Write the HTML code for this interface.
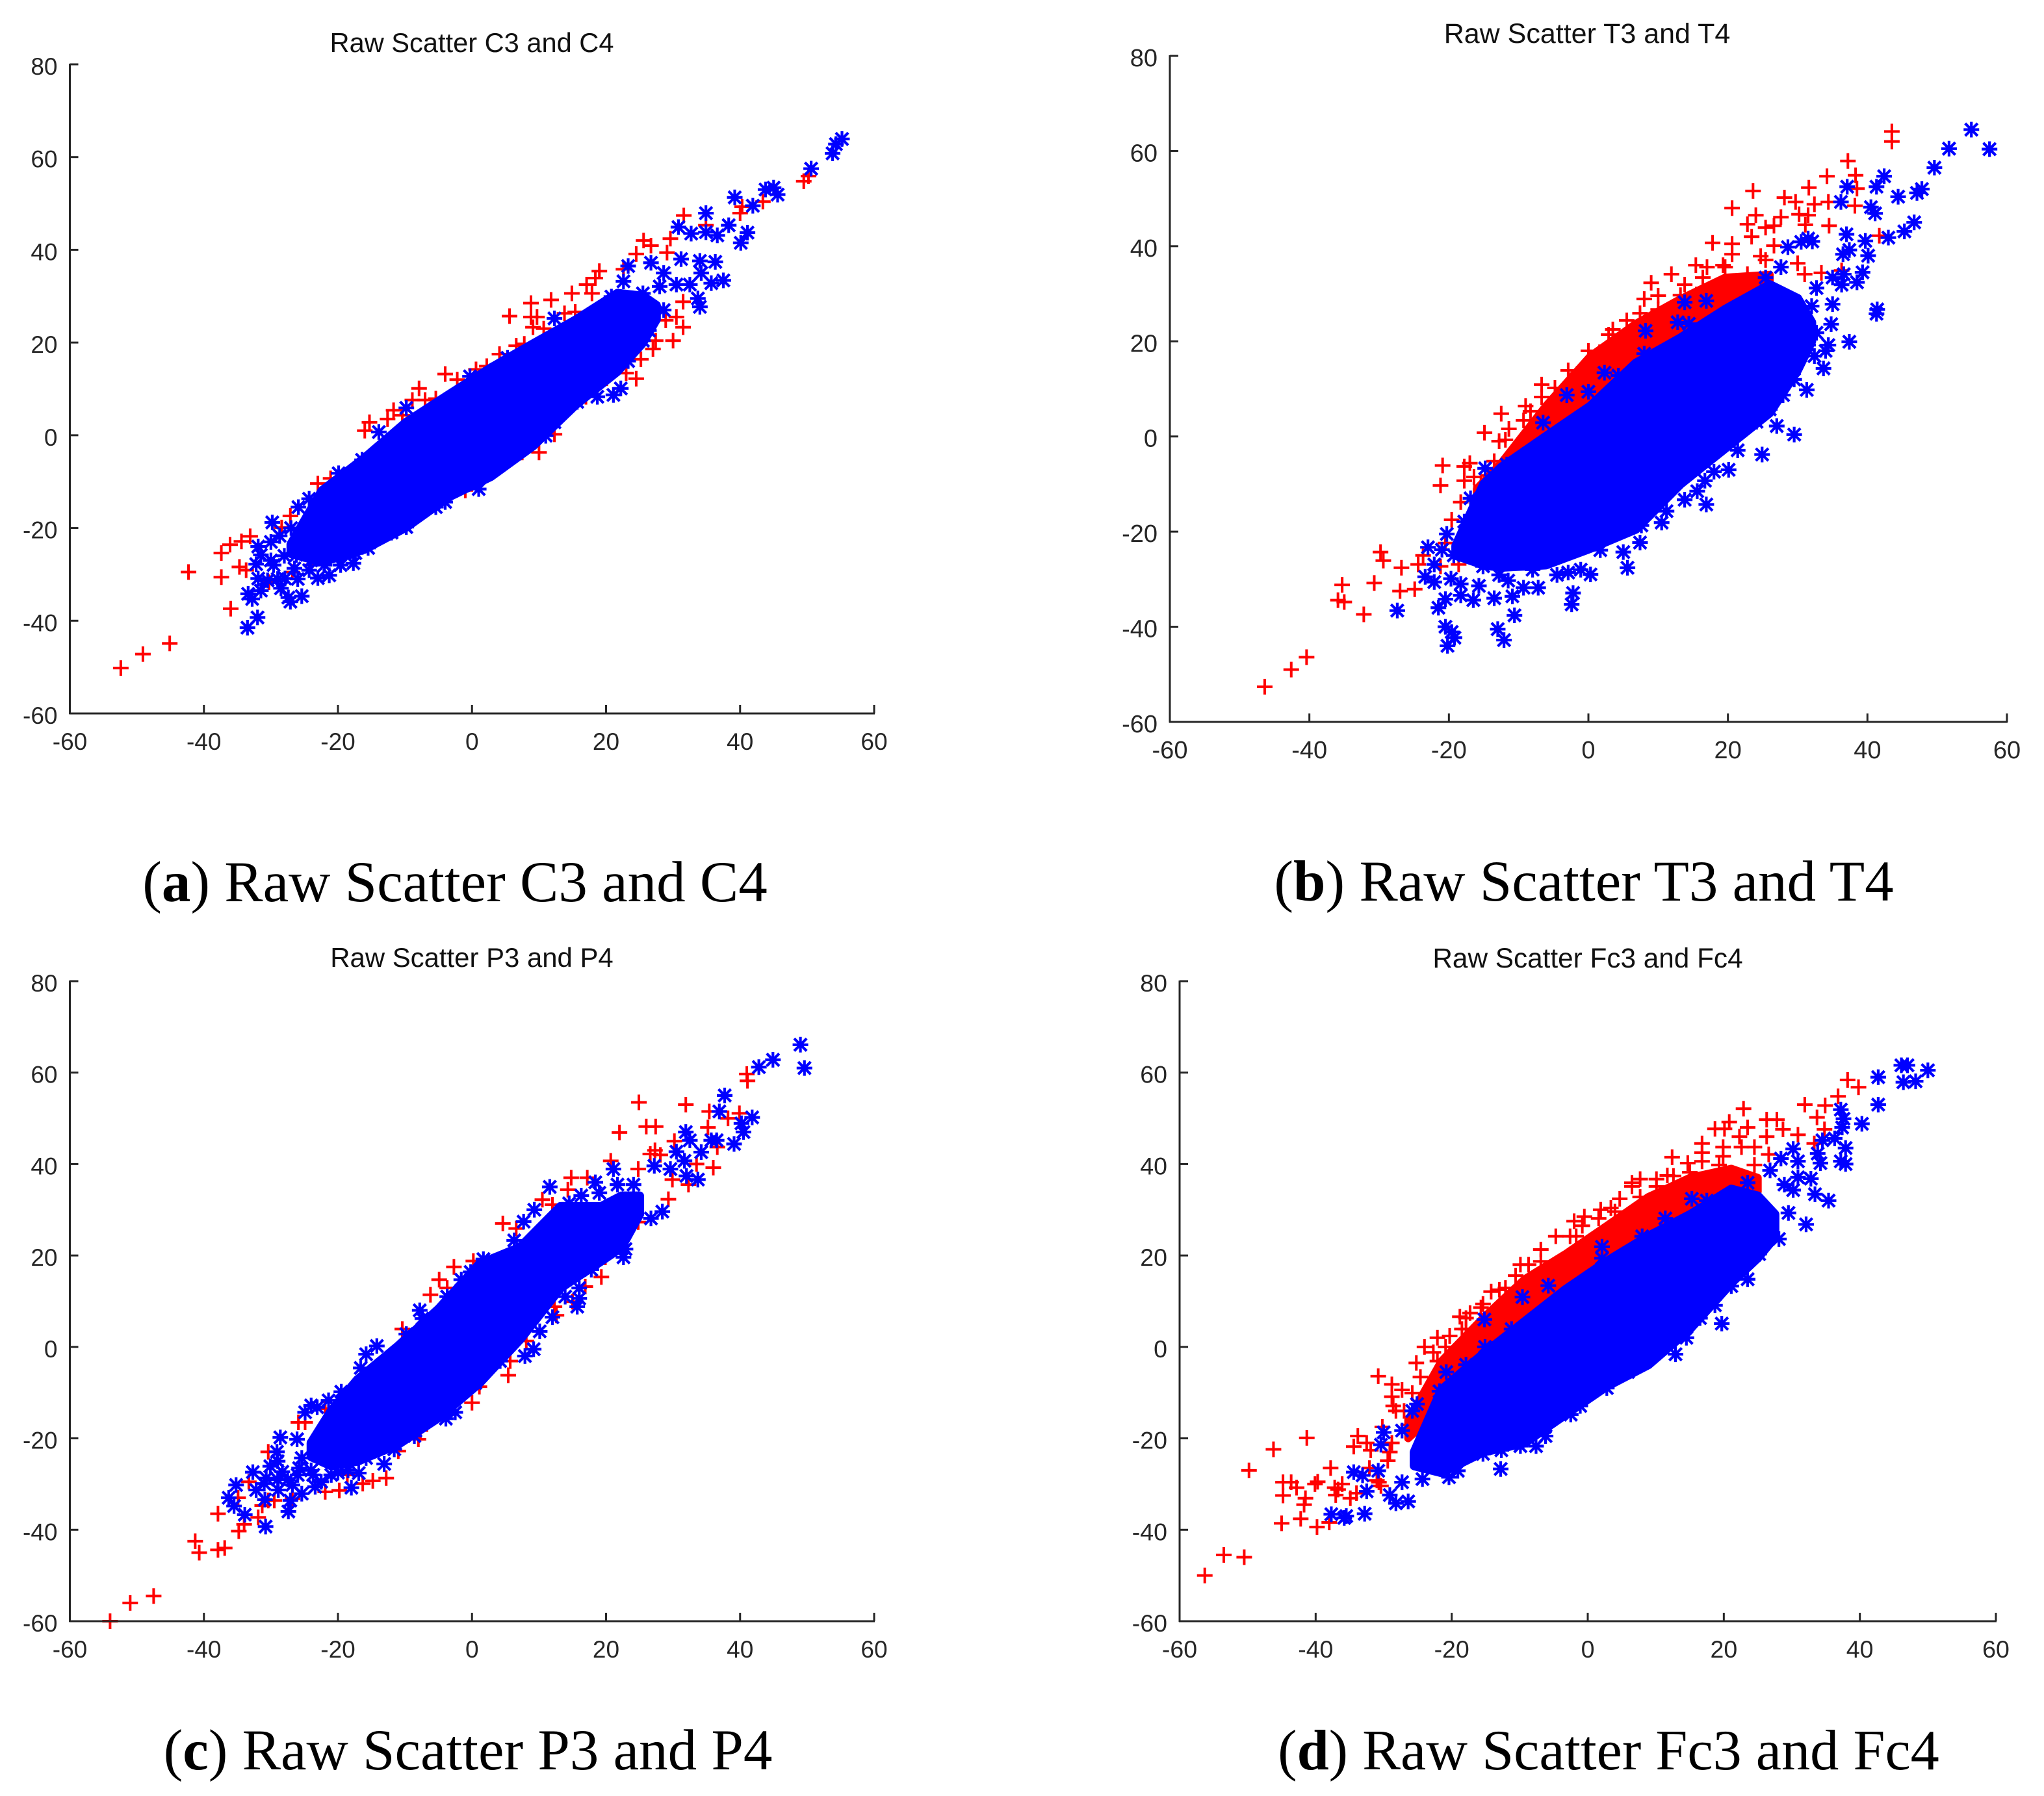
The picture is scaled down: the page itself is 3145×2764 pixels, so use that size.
<!DOCTYPE html>
<html lang="en">
<head>
<meta charset="utf-8">
<title>Raw Scatter figure</title>
<style>
html,body{margin:0;padding:0;background:#fff;}
svg{display:block;}
.tick-label{font-family:"Liberation Sans",sans-serif;fill:#262626;}
.panel-title{font-family:"Liberation Sans",sans-serif;fill:#111;text-anchor:middle;}
.caption{font-family:"Liberation Serif",serif;font-size:89px;fill:#000;text-anchor:middle;}
.caption tspan{font-weight:bold;}
</style>
</head>
<body>
<svg id="figure" xmlns="http://www.w3.org/2000/svg" width="3145" height="2764" viewBox="0 0 3145 2764">
<rect x="0" y="0" width="3145" height="2764" fill="#fff"/>
<g id="panel-a"></g>
<g id="panel-b"></g>
<g id="panel-c"></g>
<g id="panel-d"></g>
<text class="panel-title" x="726" y="80" font-size="41.6">Raw Scatter C3 and C4</text>
<text class="panel-title" x="2442" y="66" font-size="43">Raw Scatter T3 and T4</text>
<text class="panel-title" x="726" y="1488" font-size="41.9">Raw Scatter P3 and P4</text>
<text class="panel-title" x="2443" y="1489" font-size="42.3">Raw Scatter Fc3 and Fc4</text>
<text class="caption" x="700" y="1387">(<tspan>a</tspan>) Raw Scatter C3 and C4</text>
<text class="caption" x="2437" y="1386">(<tspan>b</tspan>) Raw Scatter T3 and T4</text>
<text class="caption" x="720" y="2723">(<tspan>c</tspan>) Raw Scatter P3 and P4</text>
<text class="caption" x="2475" y="2723" style="font-size:88.3px">(<tspan>d</tspan>) Raw Scatter Fc3 and Fc4</text>
</svg>
<script>
const xTickLabels = [-60,-40,-20,0,20,40,60];
const yTickLabels = [-60,-40,-20,0,20,40,60,80];

/* ---------- Panel A: C3 / C4 ---------- */
const panelARedPoints = [[-52.4,-50.2],[-49.1,-47.2],[-45.1,-44.9],[-42.3,-29.5],[-37.4,-25.4],[-36.1,-23.6],[-34.4,-22.9],[-33.1,-21.8],[-37.4,-30.6],[-34.7,-28.4],[-33.7,-29.1],[-36,-37.4],[-30.3,-31.7],[-28.4,-19.9],[-27.1,-17.4],[-23,-10.4],[-21.1,-9.3],[-15.3,2.8],[-16,1],[-12.6,3.5],[-11.7,5.4],[-10.4,4.3],[-8.9,7.6],[-7.9,10.1],[-7,7.6],[-7,5],[-5.4,7.9],[-4,13.2],[-2.2,12],[0.6,14.2],[2.2,14.9],[4.1,17.5],[5.6,25.7],[6.6,19.3],[7.8,19.7],[8.8,28.5],[8.8,25.5],[9.7,25.5],[9.1,23.3],[11.8,29.2],[10.7,23],[13.8,26.3],[15.4,26.6],[14.9,30.6],[17.1,32.5],[17.9,30.6],[18.4,33.9],[19,35.4],[22.6,35.8],[24.5,39.1],[25.6,42],[26.7,40.9],[29.6,42.4],[29.1,39.4],[31.6,47.4],[34.9,45.3],[40,47.9],[40.3,49.3],[43.4,50.4],[49.5,54.8],[50.2,55.9],[31.5,28.8],[31.5,23.3],[30.5,25.5],[30,20.4],[27.4,20.4],[27,18.6],[25.2,16.4],[24.5,12.2],[23,13.4],[20.1,12.3],[17,8.3],[12.3,0.2],[10,-3.7],[7.5,-3.7],[3.7,-7.1],[-1,-11.9],[-24,-28],[-26.8,-29.5],[28.9,24.8],[23,29.2],[24.9,27.7]];
const panelABluePoints = [[-33.5,-41.5],[-32,-39.3],[-27.4,-35],[-27.1,-35.9],[-25.4,-34.7],[-33.4,-34.2],[-32.8,-35.3],[-31.5,-33.5],[-31.9,-30.9],[-30.5,-31.3],[-27.9,-30.9],[-23,-30.8],[-21.3,-30.2],[-32.2,-27.8],[-31.5,-25.8],[-31.9,-24],[-29.8,-18.8],[-29.6,-28],[-26.2,-25.8],[-24.3,-29.1],[-26.5,-28.7],[-19.6,-28],[-17.7,-27.6],[-17.4,-25.4],[-15.5,-24.3],[-14.8,-22.5],[-12,-21],[-9.8,-19.8],[-8.2,-16.3],[-5.4,-15.5],[-4,-14.4],[-2.9,-11.9],[1,-11.6],[2.2,-8.2],[5.6,-4.2],[8.5,-0.5],[11,-0.1],[12.3,2.8],[15.7,7.2],[18.7,8.3],[21.1,8.7],[22.2,10.1],[23.3,16],[25.5,20.4],[26.4,22.6],[24.2,24],[28.6,27],[33.7,29.5],[34,27.7],[35.7,32.8],[37.5,33.4],[32.5,32.5],[30.5,32.5],[28,32.1],[25.5,30.6],[22.6,33.2],[23.3,36.5],[26.7,37.2],[28.6,35],[31.2,38],[34,37.6],[36.3,37.4],[34.2,35],[30.8,44.9],[32.7,43.5],[34.9,47.9],[34.9,43.8],[36.6,43.1],[38.3,45.3],[41.1,43.7],[40.1,41.5],[39.2,51.3],[41.9,49.5],[43.8,53],[45,53.4],[45.6,51.9],[50.6,57.5],[53.8,60.8],[54.3,62.8],[55.2,63.9],[-19.9,-8.2],[-16.4,-5.3],[-13.9,0.7],[-9.8,5.9],[-24.3,-13.7],[-25.9,-15.5],[-28.7,-21.7],[-0.3,12.7],[5.3,16.7],[12.3,25.2],[20.8,29.9],[-30,-27],[-28,-26],[-29,-31],[-26,-31],[-24,-27],[-22,-28],[-20,-26],[-28.5,-33],[-30,-23],[-27,-20]];
const panelABlueBandX = [-27,-22.4,-16.1,-9.8,-3.5,2.8,9.1,15.4,21.7,25.5,27.5];
const panelABlueBandHigh = [-23.5,-12,-5,2.8,8.7,14.5,19.7,24.8,30.6,30,28];
const panelABlueBandLow = [-25.5,-27.3,-24.6,-19.8,-13.3,-8.9,-2.3,6.5,13.8,20,25];
const panelARedBandX = [];
const panelARedBandHigh = [];
const panelARedBandLow = [];

/* ---------- Panel B: T3 / T4 ---------- */
const panelBRedPoints = [[-46.4,-52.6],[-42.6,-49],[-40.4,-46.4],[-32.2,-37.4],[-35.9,-34.4],[-35,-34.8],[-35.3,-31.2],[-30.7,-30.8],[-27,-32.5],[-24.9,-32.1],[-26.8,-27.6],[-29.8,-24.3],[-29.4,-26.1],[-24.4,-26.9],[-23.7,-25],[-18.6,-26.9],[-21.2,-27.3],[-20.5,-22.4],[-19.6,-17.5],[-18.3,-13.8],[-21.2,-10.3],[-20.9,-6.1],[-17.8,-6.3],[-17.8,-9.3],[-17,-5.6],[-16.4,-8.5],[-15.4,-10.4],[-14.4,-8.2],[-13.5,-5.2],[-12.8,-1],[-14.9,0.8],[-11.9,-0.7],[-11.4,1.6],[-12.5,4.8],[-9.3,3.4],[-9,6.4],[-8.3,5.3],[-6.7,10.9],[-6.7,8.3],[-4.8,10.2],[-2.9,13.9],[-1.6,13.2],[0,18],[1.6,17.7],[2.9,21.4],[3.5,22.5],[5.5,24.4],[7.4,25.9],[8,28.9],[9,32.3],[10,29.6],[11.9,34.1],[13.8,31.9],[15.4,36],[16.4,33.4],[17.8,40.7],[17,35.6],[19.3,36],[20.6,40.5],[20.6,38.3],[20.6,48],[22.8,44.6],[23.6,51.6],[24,46.5],[23.4,42],[25.4,43.9],[26.6,44.3],[27.6,46.1],[28.1,50.2],[29.7,49.3],[31.6,52.3],[34.2,54.7],[37.2,57.9],[38.3,54.9],[38.5,52.1],[32.4,48.8],[34.4,49.3],[30.2,46.7],[31.5,46.5],[31.1,44.5],[34.5,44.3],[38.2,48.5],[41.7,42.2],[43.5,62],[43.5,64.1],[24.7,37.9],[26.6,40.1],[30,36.4],[31,34.1],[33.4,34.4],[36.3,34.9],[22.8,33],[20.2,31.9],[-9.3,-1.8],[-6.7,2.7],[-2.9,8.7],[-0.3,13.2],[3.5,18.4],[6.8,22.2],[10,26.7],[13.2,29.7],[16.4,31.2],[19.6,35.6],[22.8,34.1],[25.4,37.1],[-13.8,-9.3],[-15.7,-13]];
const panelBBluePoints = [[-20.2,-44],[-19.2,-42.3],[-19.6,-41.1],[-20.5,-40],[-13,-40.5],[-12.1,-42.8],[-10.6,-37.6],[-2.2,-32.9],[-2.4,-35.3],[-27.4,-36.6],[-21.5,-36],[-20.5,-34.2],[-18.3,-33.4],[-16.5,-34.4],[-13.5,-34],[-10.9,-33.6],[-7.2,-31.8],[-9.3,-31.8],[-15.7,-31.4],[-18.3,-31],[-22.1,-30.6],[-23.4,-29.5],[-19.7,-29.9],[-11.5,-30.3],[-12.8,-29.1],[-8,-28],[-4.5,-29.1],[-2.9,-28.6],[-1.1,-28],[0.3,-29],[5.6,-27.6],[5,-24.3],[1.7,-23.9],[7.4,-22.3],[7.6,-18.7],[10.5,-18.1],[11.2,-15.7],[13.8,-13.3],[16.9,-14.3],[15.6,-11.5],[16.7,-9.3],[20.1,-7],[18,-7.4],[24.9,-3.8],[21.4,-2.9],[19.3,-1.4],[29.5,0.4],[27,2.2],[24.1,3.1],[26,5.7],[31.3,9.8],[27.9,8.7],[29.5,12],[33.7,14.3],[37.4,19.9],[32.4,16.9],[34,18],[34.4,19.2],[31.5,19.2],[32.7,21.8],[34.8,23.6],[41.4,26.7],[41.3,25.8],[35,27.8],[32,27.4],[38.5,32.4],[39.3,34.5],[36.3,31.9],[32.7,31.2],[35,33.4],[36.6,34.1],[40.1,38],[37.4,39.2],[36.5,38.3],[39.7,41.1],[37,42.5],[43,41.8],[45.3,43.1],[46.7,45],[32.1,41],[30.5,40.9],[28.6,39.8],[31.5,41.6],[36.2,49.3],[41.1,46.9],[40.5,48.2],[44.4,50.4],[47.1,51.2],[47.8,52],[37.1,52.5],[41.3,52.5],[42.4,54.7],[49.6,56.5],[51.7,60.5],[54.9,64.5],[57.5,60.4],[13.8,28.2],[16.9,28.5],[12.8,24],[14.4,23.7],[8.2,22.2],[8,17.4],[2.3,13.4],[4.3,12.8],[0,9.4],[-3.1,8.7],[-6.5,2.9],[-8.7,-3.7],[-11.7,-5.9],[-14.8,-6.7],[-16.9,-13],[-17.8,-17.9],[-20.3,-20.5],[-23,-23.3],[-21,-23.8],[-19.3,-25],[-17.3,-24.3],[-22.1,-26.9],[-15.1,-27.3],[27.6,35.6],[25.4,33.4]];
const panelBBlueBandX = [-19,-15,-12.5,-6.1,0.3,6.8,13.2,19.6,26,30,32];
const panelBBlueBandHigh = [-23,-10,-6.5,0,6.4,15.4,20.7,26.7,31.9,29,24];
const panelBBlueBandLow = [-25,-27,-27.5,-27,-23.5,-19.5,-10,-2.5,5,14,20];
const panelBRedBandX = [-16,-12.5,-6.1,0.3,6.8,13.2,19.6,26];
const panelBRedBandHigh = [-11,-5.6,6.4,16.9,23.7,28.9,33.4,34];
const panelBRedBandLow = [-16,-13.8,-6.3,4.2,11.7,17.7,23.7,26.7];

/* ---------- Panel C: P3 / P4 ---------- */
const panelCRedPoints = [[-54,-60],[-51,-56],[-47.5,-54.5],[-37.9,-36.5],[-37.9,-44.4],[-36.9,-44],[-41.3,-42.5],[-40.7,-45],[-34.8,-40.3],[-34,-38.8],[-31.9,-37.3],[-33.3,-29.5],[-34.9,-33],[-30.4,-33.6],[-31.3,-34.7],[-29.5,-33.6],[-30.4,-22.95],[-26.8,-33.2],[-21.9,-31.7],[-19.8,-31.4],[-16.3,-29.9],[-14.8,-29.3],[-12.8,-28.7],[-18.6,-28],[-11,-22.8],[-8,-20.2],[-7.7,-18.3],[0,-12.2],[1.1,-8.7],[5.4,-6.2],[5.7,-3.1],[8.1,1.3],[12.3,8.8],[12.6,6.9],[15,9.9],[19.3,15.3],[19.9,19.6],[16.9,13.2],[-25.9,-16.5],[-24.9,-16.5],[-21.9,-13.5],[-10.4,3.9],[-6.2,11.4],[-4.9,14.7],[-3.7,12.9],[-2.7,17.5],[0.2,18.8],[4.6,27],[6.6,25.9],[10.5,32.2],[12,31.1],[14.3,34.4],[14.8,37],[17.2,37],[20.7,40.7],[22,46.9],[24.9,53.5],[26,48.2],[27.4,48.2],[30.2,45],[26.6,42.2],[28.1,42],[27.3,43],[31.9,53],[35.4,51.5],[35.2,48],[38.2,50],[39.9,51.1],[36.6,43.7],[33.5,40],[36,39.2],[32.3,35.5],[29.9,36.6],[29.3,32.3],[24.8,27.3],[41.1,58.2],[41,59.7],[24.8,38.9]];
const panelCBluePoints = [[-30.8,-39.3],[-33.9,-36.7],[-27.4,-36],[-35.5,-34.8],[-36.3,-33],[-30.9,-33.4],[-27.1,-33.6],[-25.4,-32.1],[-32.2,-31.3],[-28.9,-31.3],[-26.8,-30.2],[-23.4,-30.6],[-18,-30.8],[-31,-29.9],[-35.2,-30.2],[-32.7,-27.4],[-30.1,-26.1],[-28.3,-27.3],[-30.7,-28.7],[-23.7,-28],[-21,-28],[-16.9,-27.6],[-25.8,-26.5],[-25.4,-24.3],[-29.1,-22.95],[-28.6,-19.8],[-26.1,-20.2],[-13.1,-25.6],[-11.6,-22.4],[-15.8,-24.3],[-8.6,-19.5],[-3.9,-15.7],[-2.5,-14.3],[-24.9,-14.3],[-24,-12.8],[-23.1,-13.2],[-21.4,-11.7],[-19.5,-9.8],[-16.6,-4.6],[-15.8,-1.6],[-14.2,0.2],[-9.8,2.8],[-7.8,8],[-7.4,6.2],[-3.7,11],[-1.6,14.7],[-0.2,16.4],[1.7,19.2],[6.3,23.3],[7.7,27.4],[9.3,30],[11.6,35],[16.3,33.1],[18.4,36],[19,33.7],[14.5,31.4],[21.1,38.9],[21.7,35.5],[24.1,35.5],[27.2,39.6],[29.6,38.9],[31.7,40.7],[32,37.4],[33.7,36.6],[28.4,29.6],[26.7,28.1],[23.5,27.4],[22.9,21.4],[22.3,23.3],[22.6,19.6],[17.8,16.9],[16,12.9],[16,10.6],[15.7,8.8],[13.9,11],[12,6.5],[10.1,3.4],[9.2,-0.5],[7.9,-2],[4.2,-3.1],[0.5,-7.9],[30.5,42.7],[31.9,47],[32.5,45.2],[34.2,42.6],[35.7,45.2],[36.5,45.2],[39.1,44.4],[40.5,47],[40.2,48.9],[41.8,50.2],[36.9,51.5],[37.7,55],[42.8,61.2],[44.9,62.8],[49,66.1],[49.6,61],[-29,-29],[-27.5,-29],[-26,-28],[-24,-27],[-29,-25],[-22.5,-29.5],[-20,-27.5],[-18.5,-27]];
const panelCBlueBandX = [-24,-21,-17.1,-11,-4.9,1.1,7.2,13.2,19.3,22.3,25];
const panelCBlueBandHigh = [-21,-14,-7.2,0.2,8.4,18.1,21.8,30.7,30.7,33,33];
const panelCBlueBandLow = [-24,-26,-25,-21.3,-15.4,-7.9,1.7,12.9,18.8,21.8,29];
const panelCRedBandX = [];
const panelCRedBandHigh = [];
const panelCRedBandLow = [];

/* ---------- Panel D: Fc3 / Fc4 ---------- */
const panelDRedPoints = [[-56.3,-50],[-53.5,-45.5],[-50.5,-46],[-49.8,-27],[-46.2,-22.4],[-41.3,-19.9],[-45,-38.6],[-42.2,-37.6],[-39.8,-39.4],[-38,-38.4],[-44.8,-29.6],[-44.8,-32.5],[-43.6,-29.6],[-42.8,-30.8],[-41.7,-34.5],[-41.5,-33.1],[-40.1,-30],[-39.7,-29.5],[-37.2,-30.8],[-36.7,-31.2],[-36.1,-30],[-37.05,-32.4],[-34.9,-33.1],[-34,-32],[-37.8,-26.5],[-34.4,-21.8],[-33.8,-19.5],[-32.5,-21],[-31.9,-22.6],[-32.1,-26.5],[-31,-29.2],[-30.4,-30.4],[-29.1,-23],[-30.2,-17.5],[-30.8,-6.4],[-28.8,-8.2],[-27.3,-9.4],[-28.8,-10.9],[-28.6,-12.9],[-28.2,-14],[-25.8,-10.1],[-25.2,-3.5],[-24.6,-6.6],[-24,0],[-22.7,-1.2],[-22.1,2],[-20.3,2.4],[-18.8,6.6],[-17.9,3.9],[-17.3,7.4],[-15.7,8.6],[-14.2,12.1],[-12.1,12.9],[-9.9,18],[-8.7,18],[-6.9,21.3],[-4.7,24.2],[-1.7,24.2],[-2,27.5],[-0.5,28.5],[1.9,30],[3.4,30.4],[4.7,32.4],[6.5,35.1],[7.7,36.7],[10.1,36.7],[12.4,41.5],[11.7,37.5],[14.7,40.2],[16.8,44.5],[16.8,42.5],[18.7,47.7],[20.1,47.7],[20.8,49.2],[19.9,43.7],[19.9,41.7],[22.9,52.1],[23.5,48],[22.3,46],[22.6,43.7],[24.5,43.7],[24.5,39.8],[26.3,49.7],[27.8,49.7],[26.3,46],[28.7,47.6],[30.9,46.4],[33.3,44.5],[31.9,53],[34.9,52.8],[33.7,50.2],[34.8,47.6],[36.8,54.8],[38.2,58.4],[39.8,56.8],[26.6,42.1],[6.5,35.9],[7.7,32.8],[10.1,35.1],[12.6,37.4],[15,38.2],[16.8,40.6],[19.3,39.8],[21.1,37.5],[4,29.6],[1.6,28.1],[-0.8,26.5],[-2.6,24.2],[-6.9,18.7],[-10.6,15.6],[-13,12.5],[-15.4,9.4],[-17.9,6.3],[-18.5,3.9],[-20.9,0],[-22.1,-3.1],[-27,-14],[-26.4,-17.1],[-28.8,-21],[-29.4,-24.9],[-30.7,-29.6]];
const panelDBluePoints = [[-37.7,-36.6],[-35.8,-37.4],[-35.5,-37],[-32.8,-36.5],[-26.4,-33.8],[-28.2,-34.2],[-29.1,-32.4],[-32.5,-31.6],[-33.1,-28.1],[-34.4,-27.4],[-30.8,-27.1],[-30,-18.7],[-30.4,-21.4],[-27.3,-18.3],[-25.8,-14],[-25.1,-12.5],[-20.8,-5.5],[-21.8,-9.7],[-24.3,-28.9],[-27.3,-29.6],[-20.4,-28.5],[-19.1,-27.1],[-12.8,-26.7],[-15.4,-23.4],[-12.7,-22.6],[-9.9,-21.7],[-7.6,-21.7],[-6.2,-19.5],[-6.3,-17.5],[-2.5,-14.8],[-1.1,-12.9],[2.8,-9],[3.5,-7],[5.9,-5.5],[7.4,-2.2],[12.9,-1.6],[9.2,0],[11.5,1.6],[14.5,2],[19.7,5.1],[16.5,6.3],[18.7,9.1],[16.8,9.8],[21.1,13.3],[23.5,14.8],[25.2,20.3],[28.1,23.6],[32.1,26.8],[29.5,29.3],[35.4,32],[33.4,33.4],[32.8,36.8],[30.9,37.1],[28.9,35.5],[30.2,34.3],[37.9,40],[37.2,40.6],[34.2,40.2],[33.8,42.3],[37.9,43.5],[30.9,40.6],[28.4,41.2],[30.2,43.3],[26.8,38.6],[23.5,35.9],[34.5,45.2],[36.3,45.6],[37.4,48],[37.6,49.9],[37.2,51.9],[40.3,48.8],[42.7,53],[42.7,59],[46.1,61.6],[47,61.6],[46.4,57.9],[48.2,58.1],[50,60.5],[2.1,21.9],[2.1,19.4],[-9.6,10.9],[-5.8,13.4],[-15.2,6],[11.4,28.1],[8,24.2],[-15.1,0],[-17.9,-3.9],[-11.2,3.9],[-6.9,6.2],[15.3,32.4],[17.5,32]];
const panelDBlueBandX = [-25.5,-21.5,-15.4,-9.3,-3.3,2.8,8.9,15,21.1,25,27.5];
const panelDBlueBandHigh = [-23,-9.4,-1.6,5.5,12.5,18.7,24.2,28.9,34.5,33,29];
const panelDBlueBandLow = [-26,-27.5,-23,-21,-14.8,-8.6,-3.9,3.9,14,19.5,24];
const panelDRedBandX = [-26.4,-21.5,-15.4,-9.3,-3.3,2.8,8.9,15,21.1,25];
const panelDRedBandHigh = [-16,-3.1,6.3,14.8,20.3,26.5,32.8,37,39,37];
const panelDRedBandLow = [-20,-13.2,-1.6,3.9,11.7,14.8,21,27.3,33.5,34];

const SVG_NS = 'http://www.w3.org/2000/svg';
const AXIS_COLOR = '#262626';
const RED = '#ff0000';
const BLUE = '#0000ff';

function makeXScale(left, right) {
  const lo = xTickLabels[0], hi = xTickLabels[xTickLabels.length - 1];
  return v => left + (v - lo) / (hi - lo) * (right - left);
}
function makeYScale(top, bottom) {
  const lo = yTickLabels[0], hi = yTickLabels[yTickLabels.length - 1];
  return v => bottom - (v - lo) / (hi - lo) * (bottom - top);
}
function plusPath(x, y, r) {
  return 'M' + (x - r) + ' ' + y + 'H' + (x + r) + 'M' + x + ' ' + (y - r) + 'V' + (y + r);
}
function starPath(x, y, r) {
  const d = r * 0.8;
  return plusPath(x, y, r) +
    'M' + (x - d) + ' ' + (y - d) + 'L' + (x + d) + ' ' + (y + d) +
    'M' + (x - d) + ' ' + (y + d) + 'L' + (x + d) + ' ' + (y - d);
}
function bandPath(xs, highs, lows, sx, sy) {
  let d = '';
  xs.forEach((v, i) => { d += (i ? 'L' : 'M') + sx(v) + ' ' + sy(highs[i]); });
  for (let i = xs.length - 1; i >= 0; i--) { d += 'L' + sx(xs[i]) + ' ' + sy(lows[i]); }
  return d + 'Z';
}

function drawPanel(cfg) {
  const root = document.getElementById(cfg.id);
  const sx = makeXScale(cfg.left, cfg.right);
  const sy = makeYScale(cfg.top, cfg.bottom);

  if (cfg.redBandX.length) {
    const band = document.createElementNS(SVG_NS, 'path');
    
    
    band.setAttribute('d', bandPath(cfg.redBandX, cfg.redBandHigh, cfg.redBandLow, sx, sy));
    band.setAttribute('fill', RED);
    band.setAttribute('stroke', RED);
    band.setAttribute('stroke-width', '12');
    band.setAttribute('stroke-linejoin', 'round');
    root.appendChild(band);
  }
  cfg.red.forEach(p => {
    const el = document.createElementNS(SVG_NS, 'path');
    
    
    el.setAttribute('d', plusPath(sx(p[0]), sy(p[1]), 12));
    el.setAttribute('stroke', RED);
    el.setAttribute('stroke-width', '4');
    el.setAttribute('fill', 'none');
    root.appendChild(el);
  });
  const blueBand = document.createElementNS(SVG_NS, 'path');
  
  
  blueBand.setAttribute('d', bandPath(cfg.blueBandX, cfg.blueBandHigh, cfg.blueBandLow, sx, sy));
  blueBand.setAttribute('fill', BLUE);
  blueBand.setAttribute('stroke', BLUE);
  blueBand.setAttribute('stroke-width', '14');
  blueBand.setAttribute('stroke-linejoin', 'round');
  root.appendChild(blueBand);
  cfg.blue.forEach(p => {
    const el = document.createElementNS(SVG_NS, 'path');
    
    
    el.setAttribute('d', starPath(sx(p[0]), sy(p[1]), 12));
    el.setAttribute('stroke', BLUE);
    el.setAttribute('stroke-width', '4.2');
    el.setAttribute('fill', 'none');
    root.appendChild(el);
  });

  const yAxis = document.createElementNS(SVG_NS, 'line');
  
  
  yAxis.setAttribute('x1', cfg.left); yAxis.setAttribute('x2', cfg.left);
  yAxis.setAttribute('y1', cfg.top - 1); yAxis.setAttribute('y2', cfg.bottom + 1);
  yAxis.setAttribute('stroke', AXIS_COLOR); yAxis.setAttribute('stroke-width', '3');
  root.appendChild(yAxis);

  const xAxis = document.createElementNS(SVG_NS, 'line');
  
  
  xAxis.setAttribute('x1', cfg.left - 1); xAxis.setAttribute('x2', cfg.right + 1);
  xAxis.setAttribute('y1', cfg.bottom); xAxis.setAttribute('y2', cfg.bottom);
  xAxis.setAttribute('stroke', AXIS_COLOR); xAxis.setAttribute('stroke-width', '3');
  root.appendChild(xAxis);

  xTickLabels.forEach(v => {
    const t = document.createElementNS(SVG_NS, 'line');
    
    
    t.setAttribute('x1', sx(v)); t.setAttribute('x2', sx(v));
    t.setAttribute('y1', cfg.bottom); t.setAttribute('y2', cfg.bottom - 13);
    t.setAttribute('stroke', AXIS_COLOR); t.setAttribute('stroke-width', '3');
    root.appendChild(t);
    const l = document.createElementNS(SVG_NS, 'text');
    
    
    l.setAttribute('class', 'tick-label');
    l.setAttribute('x', sx(v)); l.setAttribute('y', cfg.bottom + 56);
    l.setAttribute('text-anchor', 'middle');
    l.setAttribute('font-size', cfg.tickSize);
    l.textContent = v;
    root.appendChild(l);
  });
  yTickLabels.forEach(v => {
    const t = document.createElementNS(SVG_NS, 'line');
    
    
    t.setAttribute('x1', cfg.left); t.setAttribute('x2', cfg.left + 13);
    t.setAttribute('y1', sy(v)); t.setAttribute('y2', sy(v));
    t.setAttribute('stroke', AXIS_COLOR); t.setAttribute('stroke-width', '3');
    root.appendChild(t);
    const l = document.createElementNS(SVG_NS, 'text');
    
    
    l.setAttribute('class', 'tick-label');
    l.setAttribute('x', cfg.left - 19); l.setAttribute('y', sy(v) + 16);
    l.setAttribute('text-anchor', 'end');
    l.setAttribute('font-size', cfg.tickSize);
    l.textContent = v;
    root.appendChild(l);
  });
}

drawPanel({id:'panel-a',left:107.5,right:1345,top:99,bottom:1098,tickSize:37,
  red:panelARedPoints,blue:panelABluePoints,
  blueBandX:panelABlueBandX,blueBandHigh:panelABlueBandHigh,blueBandLow:panelABlueBandLow,
  redBandX:panelARedBandX,redBandHigh:panelARedBandHigh,redBandLow:panelARedBandLow});
drawPanel({id:'panel-b',left:1800,right:3088,top:86,bottom:1111,tickSize:38,
  red:panelBRedPoints,blue:panelBBluePoints,
  blueBandX:panelBBlueBandX,blueBandHigh:panelBBlueBandHigh,blueBandLow:panelBBlueBandLow,
  redBandX:panelBRedBandX,redBandHigh:panelBRedBandHigh,redBandLow:panelBRedBandLow});
drawPanel({id:'panel-c',left:107.5,right:1345,top:1510,bottom:2495,tickSize:37,
  red:panelCRedPoints,blue:panelCBluePoints,
  blueBandX:panelCBlueBandX,blueBandHigh:panelCBlueBandHigh,blueBandLow:panelCBlueBandLow,
  redBandX:panelCRedBandX,redBandHigh:panelCRedBandHigh,redBandLow:panelCRedBandLow});
drawPanel({id:'panel-d',left:1815,right:3071,top:1510,bottom:2495,tickSize:37.5,
  red:panelDRedPoints,blue:panelDBluePoints,
  blueBandX:panelDBlueBandX,blueBandHigh:panelDBlueBandHigh,blueBandLow:panelDBlueBandLow,
  redBandX:panelDRedBandX,redBandHigh:panelDRedBandHigh,redBandLow:panelDRedBandLow});
</script>
</body>
</html>
